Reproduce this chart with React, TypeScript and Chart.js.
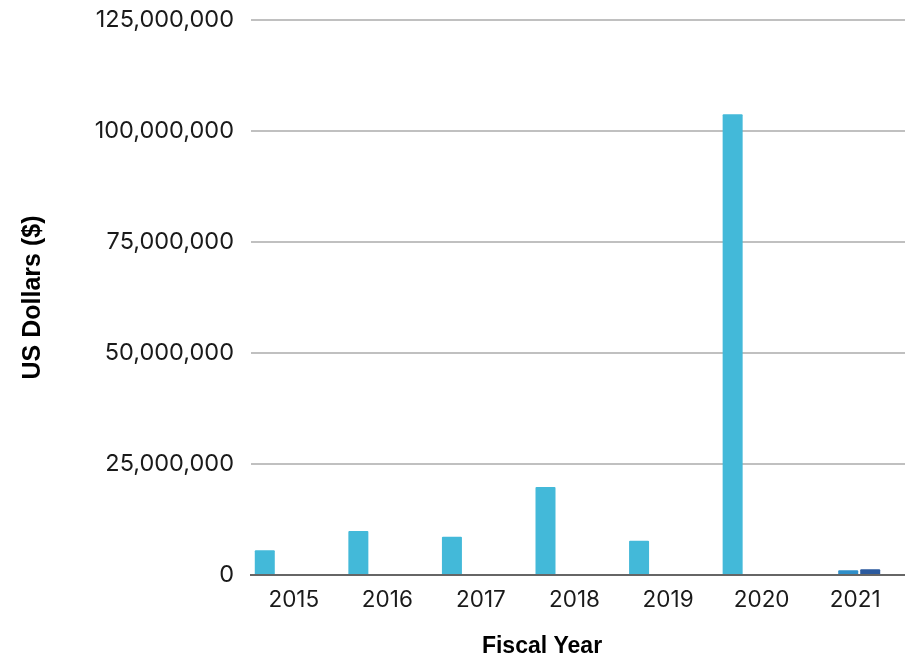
import React, { useEffect, useRef } from "react";
import { Chart, registerables } from "chart.js";

Chart.register(...registerables);

const years = ["2015", "2016", "2017", "2018", "2019", "2020", "2021"];
const seriesLight = [5600000, 9900000, 8600000, 19800000, 7700000, 103800000, null];
const seriesMedium = [null, null, null, null, null, null, 1050000];
const seriesDark = [null, null, null, null, null, null, 1280000];
const seriesEmpty = [null, null, null, null, null, null, null];
const yTicks = [0, 25000000, 50000000, 75000000, 100000000, 125000000];

const xTitle = "Fiscal Year";
const yTitle = "US Dollars ($)";

const xTitlePlugin = {
  id: "xTitlePlugin",
  afterDraw(chart: any) {
    const { ctx, chartArea } = chart;
    ctx.save();
    ctx.font = 'bold 23px "Liberation Sans", Arial, sans-serif';
    ctx.fillStyle = "#000";
    ctx.textAlign = "center";
    ctx.textBaseline = "alphabetic";
    ctx.fillText(xTitle, chartArea.left + 291, chartArea.bottom + 78);
    ctx.restore();
  },
};

export default function App() {
  const ref = useRef<HTMLCanvasElement | null>(null);
  useEffect(() => {
    if (!ref.current) return;
    const barOpts = { categoryPercentage: 0.9405, barPercentage: 0.909, borderRadius: 1 };
    const chart = new Chart(ref.current, {
      type: "bar",
      data: {
        labels: years,
        datasets: [
          { label: "A", data: seriesLight, backgroundColor: "#43B9D9", ...barOpts },
          { label: "B", data: seriesMedium, backgroundColor: "#2F8FC9", ...barOpts },
          { label: "C", data: seriesDark, backgroundColor: "#2B5A9E", ...barOpts },
          { label: "D", data: seriesEmpty, backgroundColor: "#1F3F73", ...barOpts },
        ],
      },
      options: {
        animation: false,
        responsive: false,
        devicePixelRatio: 1,
        layout: { padding: { top: 20, right: 4, bottom: 0, left: 0 } },
        plugins: { legend: { display: false }, tooltip: { enabled: false } },
        scales: {
          x: {
            grid: { display: false, drawTicks: false },
            border: { display: true, color: "#666666", width: 2 },
            ticks: {
              color: "#1a1a1a",
              font: { family: "Inter, sans-serif", size: 22.5 },
              padding: 12,
              labelOffset: -4,
              maxRotation: 0,
            },
            afterFit: (s: any) => {
              s.height = 86;
              s.paddingLeft = 0;
              s.paddingRight = 0;
            },
          },
          y: {
            min: 0,
            max: 125000000,
            afterBuildTicks: (s: any) => {
              s.ticks = yTicks.map((v) => ({ value: v }));
            },
            grid: { color: "#c0c0c0", lineWidth: 2, drawTicks: false },
            border: { display: false },
            ticks: {
              color: "#1a1a1a",
              font: { family: "Inter, sans-serif", size: 23.5 },
              padding: 17,
              callback: (v: any) => Number(v).toLocaleString("en-US"),
            },
            title: {
              display: true,
              text: yTitle,
              color: "#000",
              font: { family: '"Liberation Sans", Arial, sans-serif', size: 25, weight: "bold" },
              padding: { top: 18, bottom: 0 },
            },
            afterFit: (s: any) => {
              s.width = 251;
              s.paddingTop = 0;
              s.paddingBottom = 0;
            },
          },
        },
      },
      plugins: [xTitlePlugin],
    });
    return () => chart.destroy();
  }, []);
  return (
    <div style={{ position: "absolute", left: 0, top: 0, width: 905, height: 661, overflow: "hidden", background: "#fff" }}>
      <canvas ref={ref} width={910} height={661} style={{ display: "block" }} />
    </div>
  );
}
